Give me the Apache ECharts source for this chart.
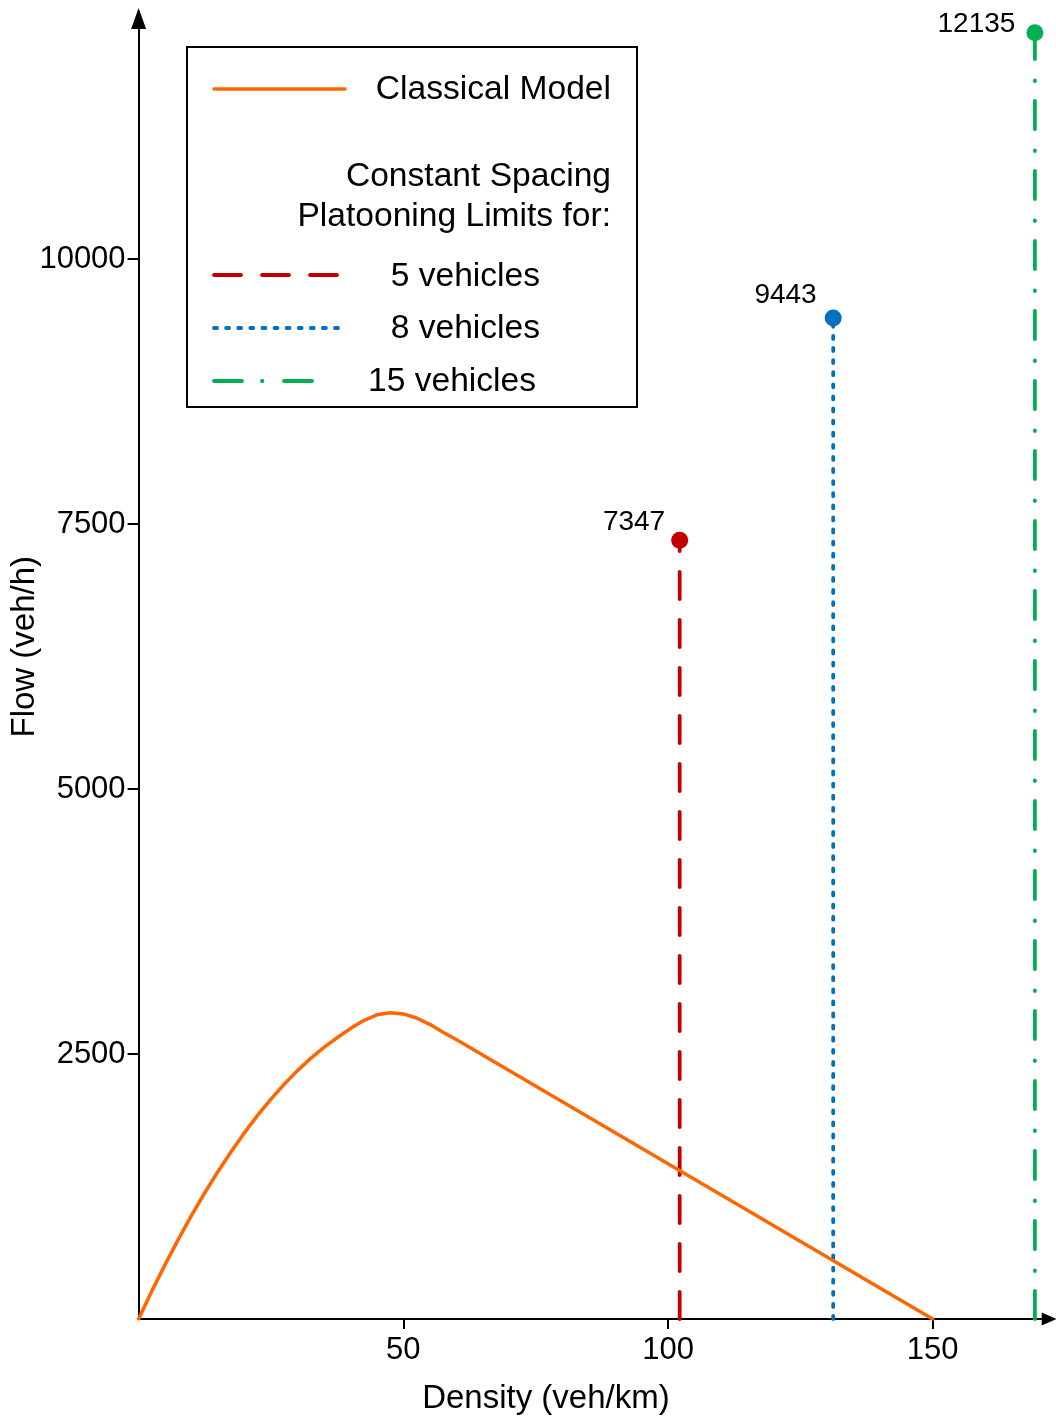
<!DOCTYPE html>
<html>
<head>
<meta charset="utf-8">
<script src="https://cdn.jsdelivr.net/npm/echarts@6/dist/echarts.min.js"></script>
<style>
html,body{margin:0;padding:0;background:#fff;}
#chart{width:1056px;height:1419px;}
</style>
</head>
<body>
<div id="chart"></div>
<script>
// Classical model (density veh/km -> flow veh/h)
const classicalDensity = [0, 2.5, 5, 7.5, 10, 12.5, 15, 17.5, 20, 22.5, 25, 27.5, 30, 32.5, 35, 37.5, 40, 42.5, 45, 47.5, 50, 52.5, 55, 57.5, 60, 150];
const classicalFlow    = [0, 263, 513, 751, 977, 1191, 1392, 1581, 1758, 1923, 2075, 2215, 2343, 2459, 2562, 2653, 2740, 2815, 2870, 2890, 2878, 2840, 2780, 2706, 2636, 0];

// Constant spacing platooning limits
const platoonNames   = ['5 vehicles', '8 vehicles', '15 vehicles'];
const platoonDensity = [102.2, 131.2, 169.3];
const platoonFlow    = [7347, 9443, 12135];

const xTicks = [50, 100, 150];
const yTicks = [2500, 5000, 7500, 10000];

const FONT = '"Liberation Sans", Arial, Helvetica, sans-serif';
const ORANGE = '#FF6600', RED = '#C00000', BLUE = '#0070C0', GREEN = '#00B050';
const platoonColors = [RED, BLUE, GREEN];
const platoonDash = [[27, 21], [3, 9.1], [28, 20, 0.5, 21.5]];
const labelOffsets = [[-6, -17.5], [-8, -22.5], [-11, -8]];

const chart = echarts.init(document.getElementById('chart'), null, {renderer: 'canvas'});

const series = [{
  type: 'line',
  name: 'Classical Model',
  data: classicalDensity.map((d, i) => [d, classicalFlow[i]]),
  symbol: 'none',
  smooth: false,
  lineStyle: {color: ORANGE, width: 3.5, cap: 'round', join: 'round'},
  z: 3
}];

platoonDensity.forEach((d, i) => {
  series.push({
    type: 'line',
    name: platoonNames[i],
    data: [[d, 0], [d, platoonFlow[i]]],
    symbol: 'none',
    lineStyle: {color: platoonColors[i], width: 3.8, type: platoonDash[i], cap: 'round'},
    z: 2
  });
});

series.push({
  type: 'scatter',
  name: 'limits',
  symbol: 'circle',
  symbolSize: 17,
  z: 5,
  itemStyle: {opacity: 1},
  data: platoonDensity.map((d, i) => ({
    value: [d, platoonFlow[i]],
    itemStyle: {color: platoonColors[i], opacity: 1},
    label: {offset: labelOffsets[i]}
  })),
  label: {
    show: true,
    position: 'left',
    distance: 0,
    formatter: p => String(p.value[1]),
    color: '#000',
    opacity: 1,
    fontSize: 28,
    fontFamily: FONT
  }
});

// legend box drawn with graphic elements
const LFS = 33.6;
const legendGraphics = [
  {type: 'rect', shape: {x: 187, y: 47, width: 450, height: 360}, style: {fill: '#fff', stroke: '#000', lineWidth: 2}, z: 10},
  {type: 'line', shape: {x1: 214, y1: 89, x2: 345, y2: 89}, style: {stroke: ORANGE, lineWidth: 3.5, lineCap: 'round'}, z: 11},
  {type: 'text', x: 611, y: 90, style: {text: 'Classical Model', align: 'right', verticalAlign: 'middle', fontSize: LFS, fontFamily: FONT, fill: '#000'}, z: 11},
  {type: 'text', x: 611, y: 177, style: {text: 'Constant Spacing', align: 'right', verticalAlign: 'middle', fontSize: LFS, fontFamily: FONT, fill: '#000'}, z: 11},
  {type: 'text', x: 611, y: 217, style: {text: 'Platooning Limits for:', align: 'right', verticalAlign: 'middle', fontSize: LFS, fontFamily: FONT, fill: '#000'}, z: 11}
];
const legendY = [275, 328, 381];
const legendTextY = [277, 329, 382];
const legendTextRight = [540, 540, 536];
const legendLineEnd = [338, 338, 330];
platoonNames.forEach((n, i) => {
  legendGraphics.push({type: 'line', shape: {x1: 214, y1: legendY[i], x2: legendLineEnd[i], y2: legendY[i]},
    style: {stroke: platoonColors[i], lineWidth: 3.8, lineDash: platoonDash[i], lineCap: 'round'}, z: 11});
  legendGraphics.push({type: 'text', x: legendTextRight[i], y: legendTextY[i], style: {text: n, align: 'right', verticalAlign: 'middle', fontSize: LFS, fontFamily: FONT, fill: '#000'}, z: 11});
});

const option = {
  backgroundColor: '#fff',
  animation: false,
  grid: {left: 138.6, right: 6.8, top: 18.4, bottom: 100, containLabel: false, outerBoundsMode: 'none'},
  xAxis: {
    type: 'value', min: 0, max: 172,
    name: 'Density (veh/km)', nameLocation: 'middle', nameGap: 63, nameMoveOverlap: false,
    nameTextStyle: {fontSize: 33, fontFamily: FONT, color: '#000', padding: [0, 96, 0, 0]},
    axisLine: {show: true, onZero: false, symbol: ['none', 'triangle'], symbolSize: [13, 15], lineStyle: {color: '#000', width: 2}},
    axisTick: {show: true, length: 10, customValues: xTicks, lineStyle: {color: '#000', width: 2}},
    axisLabel: {show: true, margin: 16, customValues: xTicks, fontSize: 31, fontFamily: FONT, color: '#000', formatter: v => String(v)},
    splitLine: {show: false}
  },
  yAxis: {
    type: 'value', min: 0, max: 12270,
    name: 'Flow (veh/h)', nameLocation: 'middle', nameGap: 97, nameMoveOverlap: false,
    nameTextStyle: {fontSize: 33, fontFamily: FONT, color: '#000', padding: [0, 0, 0, 44]},
    axisLine: {show: true, onZero: false, symbol: ['none', 'triangle'], symbolSize: [15, 21], lineStyle: {color: '#000', width: 2}},
    axisTick: {show: true, length: 11, customValues: yTicks, lineStyle: {color: '#000', width: 2}},
    axisLabel: {show: true, margin: 13, customValues: yTicks, fontSize: 31, fontFamily: FONT, color: '#000', formatter: v => String(v)},
    splitLine: {show: false}
  },
  series: series,
  graphic: legendGraphics
};
chart.setOption(option);
</script>
</body>
</html>
